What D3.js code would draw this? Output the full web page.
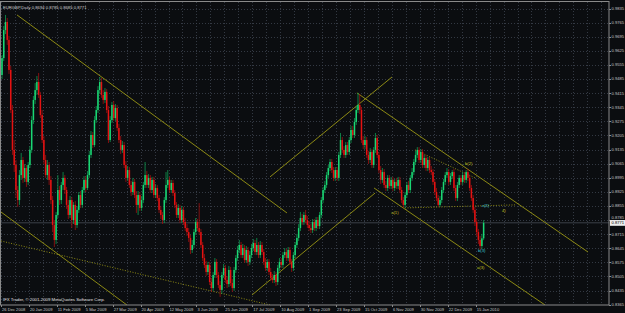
<!DOCTYPE html>
<html>
<head>
<meta charset="utf-8">
<script src="https://cdn.jsdelivr.net/npm/d3@7"></script>
<style>
  html, body { margin: 0; padding: 0; background: #0b0d10; }
  svg { display: block; }
  text { font-family: "Liberation Sans", Arial, sans-serif; }
</style>
</head>
<body>
<svg id="chart" width="625" height="313"></svg>
<script>
const title = 'EURGBP,Daily  0.8694 0.8785 0.8685 0.8771';
const copyright = 'IFX Trader, \u00a9 2001-2009 MetaQuotes Software Corp.';

// daily bars, 26 Dec 2008 .. Jan 2010
const opens = [
  0.9505,0.9589,0.9728,0.9768,0.9679,0.9530,0.9331,0.9133,0.9058,0.8934,
  0.8884,0.9008,0.9083,0.8994,0.9043,0.8974,0.9058,0.9133,0.9281,0.9381,
  0.9430,0.9470,0.9406,0.9306,0.9182,0.9083,0.9008,0.9058,0.8984,0.8884,
  0.8760,0.8686,0.8810,0.8934,0.8884,0.8959,0.8994,0.8934,0.8860,0.8810,
  0.8884,0.8785,0.8860,0.8760,0.8835,0.8909,0.8860,0.8934,0.8984,0.8944,
  0.9008,0.9108,0.9207,0.9157,0.9281,0.9331,0.9430,0.9470,0.9406,0.9381,
  0.9421,0.9331,0.9182,0.9281,0.9356,0.9291,0.9341,0.9242,0.9182,0.9133,
  0.9157,0.9058,0.8994,0.9033,0.8959,0.8924,0.8974,0.8909,0.8860,0.8909,
  0.8845,0.8884,0.8959,0.9008,0.8959,0.8994,0.8934,0.8984,0.8909,0.8944,
  0.8894,0.8835,0.8810,0.8785,0.8884,0.8959,0.8984,0.8934,0.8969,0.8919,
  0.8860,0.8810,0.8845,0.8785,0.8835,0.8775,0.8745,0.8725,0.8696,0.8636,
  0.8661,0.8725,0.8775,0.8745,0.8725,0.8661,0.8596,0.8562,0.8527,0.8562,
  0.8477,0.8447,0.8512,0.8577,0.8512,0.8462,0.8438,0.8512,0.8547,0.8487,
  0.8467,0.8537,0.8472,0.8447,0.8537,0.8596,0.8636,0.8661,0.8611,0.8646,
  0.8586,0.8636,0.8577,0.8611,0.8646,0.8671,0.8626,0.8661,0.8611,0.8661,
  0.8626,0.8577,0.8547,0.8577,0.8527,0.8497,0.8487,0.8512,0.8477,0.8547,
  0.8577,0.8562,0.8611,0.8626,0.8596,0.8636,0.8577,0.8547,0.8611,0.8661,
  0.8696,0.8745,0.8795,0.8775,0.8810,0.8785,0.8760,0.8745,0.8735,0.8775,
  0.8745,0.8785,0.8755,0.8810,0.8884,0.8934,0.8959,0.9008,0.9043,0.9073,
  0.9033,0.8994,0.9033,0.8994,0.9108,0.9182,0.9133,0.9108,0.9157,0.9123,
  0.9182,0.9232,0.9207,0.9272,0.9331,0.9356,0.9331,0.9182,0.9157,0.9182,
  0.9108,0.9083,0.9123,0.9058,0.9133,0.9192,0.9108,0.9033,0.8984,0.9023,
  0.8959,0.8944,0.8994,0.8954,0.8984,0.8944,0.8974,0.8954,0.8984,0.8934,
  0.8884,0.8860,0.8909,0.8959,0.8934,0.8994,0.9023,0.9073,0.9108,0.9133,
  0.9083,0.9123,0.9058,0.9093,0.9043,0.9083,0.9033,0.9023,0.8974,0.8924,
  0.8894,0.8860,0.8884,0.8934,0.8974,0.9008,0.9023,0.8974,0.9003,0.9023,
  0.8944,0.8894,0.8959,0.8994,0.8974,0.9008,0.8984,0.9023,0.8994,0.8944,
  0.8894,0.8835,0.8775,0.8725,0.8686,0.8656,0.8694
];
const highs = [
  0.9604,0.9748,0.9803,0.9788,0.9699,0.9550,0.9356,0.9182,0.9083,0.8954,
  0.9033,0.9118,0.9098,0.9063,0.9058,0.9073,0.9152,0.9301,0.9401,0.9465,
  0.9500,0.9515,0.9421,0.9331,0.9202,0.9108,0.9083,0.9073,0.9003,0.8904,
  0.8785,0.8825,0.9008,0.8954,0.8974,0.9023,0.9008,0.8949,0.8884,0.8904,
  0.8899,0.8874,0.8879,0.8855,0.8924,0.8929,0.8949,0.9003,0.9003,0.9028,
  0.9128,0.9227,0.9222,0.9301,0.9351,0.9450,0.9495,0.9490,0.9430,0.9440,
  0.9435,0.9351,0.9301,0.9371,0.9376,0.9361,0.9356,0.9262,0.9202,0.9177,
  0.9172,0.9078,0.9053,0.9048,0.8979,0.8994,0.8989,0.8929,0.8929,0.8924,
  0.8904,0.8974,0.9073,0.9028,0.9013,0.9008,0.8999,0.8999,0.8964,0.8959,
  0.8909,0.8855,0.8825,0.8899,0.9023,0.9033,0.8999,0.8984,0.8984,0.8934,
  0.8874,0.8864,0.8860,0.8855,0.8850,0.8795,0.8765,0.8745,0.8711,0.8686,
  0.8740,0.8795,0.8790,0.8869,0.8740,0.8676,0.8616,0.8582,0.8577,0.8577,
  0.8497,0.8527,0.8596,0.8591,0.8527,0.8482,0.8527,0.8567,0.8562,0.8507,
  0.8557,0.8552,0.8492,0.8552,0.8611,0.8656,0.8686,0.8676,0.8666,0.8661,
  0.8656,0.8651,0.8631,0.8666,0.8691,0.8686,0.8696,0.8676,0.8681,0.8676,
  0.8641,0.8596,0.8591,0.8591,0.8547,0.8517,0.8532,0.8527,0.8562,0.8596,
  0.8596,0.8626,0.8646,0.8641,0.8651,0.8651,0.8591,0.8626,0.8676,0.8716,
  0.8765,0.8825,0.8815,0.8825,0.8835,0.8805,0.8780,0.8765,0.8790,0.8790,
  0.8800,0.8800,0.8825,0.8899,0.8949,0.8979,0.9023,0.9058,0.9088,0.9088,
  0.9048,0.9048,0.9048,0.9123,0.9217,0.9197,0.9152,0.9172,0.9172,0.9197,
  0.9252,0.9252,0.9291,0.9351,0.9416,0.9411,0.9346,0.9202,0.9202,0.9197,
  0.9128,0.9142,0.9137,0.9147,0.9217,0.9207,0.9123,0.9053,0.9043,0.9038,
  0.8979,0.9008,0.9008,0.8999,0.8999,0.8989,0.8994,0.8999,0.8999,0.8949,
  0.8899,0.8924,0.8974,0.8979,0.9008,0.9043,0.9088,0.9128,0.9147,0.9147,
  0.9137,0.9137,0.9108,0.9108,0.9098,0.9098,0.9053,0.9038,0.8989,0.8944,
  0.8909,0.8904,0.8949,0.8989,0.9023,0.9043,0.9038,0.9018,0.9033,0.9038,
  0.8959,0.8974,0.9008,0.9008,0.9023,0.9023,0.9033,0.9038,0.9008,0.8959,
  0.8909,0.8850,0.8790,0.8740,0.8706,0.8716,0.8785
];
const lows = [
  0.9485,0.9574,0.9708,0.9654,0.9510,0.9316,0.9108,0.9023,0.8894,0.8850,
  0.8860,0.8984,0.8969,0.8974,0.8949,0.8959,0.9043,0.9118,0.9262,0.9361,
  0.9406,0.9391,0.9291,0.9167,0.9063,0.8994,0.8984,0.8959,0.8864,0.8725,
  0.8651,0.8666,0.8795,0.8860,0.8864,0.8934,0.8914,0.8840,0.8790,0.8795,
  0.8745,0.8765,0.8735,0.8745,0.8820,0.8845,0.8845,0.8919,0.8924,0.8934,
  0.8994,0.9093,0.9142,0.9147,0.9267,0.9316,0.9411,0.9391,0.9361,0.9366,
  0.9316,0.9167,0.9172,0.9267,0.9277,0.9277,0.9227,0.9167,0.9113,0.9118,
  0.9043,0.8974,0.8979,0.8944,0.8904,0.8909,0.8894,0.8820,0.8810,0.8830,
  0.8830,0.8869,0.8944,0.8944,0.8944,0.8919,0.8919,0.8894,0.8894,0.8879,
  0.8820,0.8790,0.8765,0.8770,0.8869,0.8944,0.8919,0.8919,0.8904,0.8845,
  0.8795,0.8795,0.8770,0.8770,0.8760,0.8730,0.8706,0.8676,0.8616,0.8621,
  0.8646,0.8711,0.8730,0.8711,0.8646,0.8582,0.8547,0.8507,0.8512,0.8462,
  0.8428,0.8433,0.8497,0.8497,0.8447,0.8403,0.8418,0.8497,0.8472,0.8447,
  0.8452,0.8457,0.8428,0.8433,0.8522,0.8582,0.8621,0.8596,0.8596,0.8572,
  0.8572,0.8557,0.8562,0.8596,0.8631,0.8611,0.8611,0.8596,0.8596,0.8611,
  0.8562,0.8532,0.8532,0.8512,0.8482,0.8472,0.8472,0.8457,0.8462,0.8532,
  0.8547,0.8547,0.8596,0.8582,0.8582,0.8562,0.8527,0.8532,0.8596,0.8646,
  0.8681,0.8730,0.8760,0.8760,0.8770,0.8745,0.8730,0.8720,0.8720,0.8730,
  0.8730,0.8740,0.8740,0.8795,0.8869,0.8919,0.8944,0.8994,0.9028,0.9018,
  0.8979,0.8979,0.8979,0.8979,0.9093,0.9118,0.9093,0.9093,0.9108,0.9108,
  0.9167,0.9192,0.9192,0.9257,0.9316,0.9311,0.9167,0.9137,0.9137,0.9093,
  0.9063,0.9068,0.9043,0.9043,0.9118,0.9093,0.9018,0.8964,0.8969,0.8944,
  0.8929,0.8929,0.8939,0.8939,0.8929,0.8929,0.8939,0.8939,0.8919,0.8869,
  0.8845,0.8845,0.8894,0.8919,0.8919,0.8979,0.9008,0.9058,0.9093,0.9068,
  0.9068,0.9043,0.9043,0.9028,0.9028,0.9018,0.9008,0.8959,0.8909,0.8879,
  0.8850,0.8850,0.8869,0.8919,0.8959,0.8994,0.8959,0.8959,0.8989,0.8929,
  0.8879,0.8879,0.8944,0.8959,0.8959,0.8969,0.8969,0.8979,0.8929,0.8879,
  0.8820,0.8755,0.8706,0.8666,0.8636,0.8641,0.8685
];
const closes = [
  0.9589,0.9728,0.9768,0.9679,0.9530,0.9331,0.9133,0.9058,0.8934,0.8884,
  0.9008,0.9083,0.8994,0.9043,0.8974,0.9058,0.9133,0.9281,0.9381,0.9430,
  0.9470,0.9406,0.9306,0.9182,0.9083,0.9008,0.9058,0.8984,0.8884,0.8760,
  0.8686,0.8810,0.8934,0.8884,0.8959,0.8994,0.8934,0.8860,0.8810,0.8884,
  0.8785,0.8860,0.8760,0.8835,0.8909,0.8860,0.8934,0.8984,0.8944,0.9008,
  0.9108,0.9207,0.9157,0.9281,0.9331,0.9430,0.9470,0.9406,0.9381,0.9421,
  0.9331,0.9182,0.9281,0.9356,0.9291,0.9341,0.9242,0.9182,0.9133,0.9157,
  0.9058,0.8994,0.9033,0.8959,0.8924,0.8974,0.8909,0.8860,0.8909,0.8845,
  0.8884,0.8959,0.9008,0.8959,0.8994,0.8934,0.8984,0.8909,0.8944,0.8894,
  0.8835,0.8810,0.8785,0.8884,0.8959,0.8984,0.8934,0.8969,0.8919,0.8860,
  0.8810,0.8845,0.8785,0.8835,0.8775,0.8745,0.8725,0.8696,0.8636,0.8661,
  0.8725,0.8775,0.8745,0.8725,0.8661,0.8596,0.8562,0.8527,0.8562,0.8477,
  0.8447,0.8512,0.8577,0.8512,0.8462,0.8438,0.8512,0.8547,0.8487,0.8467,
  0.8537,0.8472,0.8447,0.8537,0.8596,0.8636,0.8661,0.8611,0.8646,0.8586,
  0.8636,0.8577,0.8611,0.8646,0.8671,0.8626,0.8661,0.8611,0.8661,0.8626,
  0.8577,0.8547,0.8577,0.8527,0.8497,0.8487,0.8512,0.8477,0.8547,0.8577,
  0.8562,0.8611,0.8626,0.8596,0.8636,0.8577,0.8547,0.8611,0.8661,0.8696,
  0.8745,0.8795,0.8775,0.8810,0.8785,0.8760,0.8745,0.8735,0.8775,0.8745,
  0.8785,0.8755,0.8810,0.8884,0.8934,0.8959,0.9008,0.9043,0.9073,0.9033,
  0.8994,0.9033,0.8994,0.9108,0.9182,0.9133,0.9108,0.9157,0.9123,0.9182,
  0.9232,0.9207,0.9272,0.9331,0.9356,0.9331,0.9182,0.9157,0.9182,0.9108,
  0.9083,0.9123,0.9058,0.9133,0.9192,0.9108,0.9033,0.8984,0.9023,0.8959,
  0.8944,0.8994,0.8954,0.8984,0.8944,0.8974,0.8954,0.8984,0.8934,0.8884,
  0.8860,0.8909,0.8959,0.8934,0.8994,0.9023,0.9073,0.9108,0.9133,0.9083,
  0.9123,0.9058,0.9093,0.9043,0.9083,0.9033,0.9023,0.8974,0.8924,0.8894,
  0.8860,0.8884,0.8934,0.8974,0.9008,0.9023,0.8974,0.9003,0.9023,0.8944,
  0.8894,0.8959,0.8994,0.8974,0.9008,0.8984,0.9023,0.8994,0.8944,0.8894,
  0.8835,0.8775,0.8725,0.8686,0.8656,0.8694,0.8771
];
const lastPrice = 0.8771;

const priceTicks = [
  0.8365, 0.8435, 0.8505, 0.8575, 0.8645, 0.8715, 0.8785, 0.8855, 0.8925, 0.8995, 0.9065,
  0.9135, 0.9205, 0.9275, 0.9345, 0.9415, 0.9485, 0.9555, 0.9625, 0.9695, 0.9765, 0.9835
];
const dateLabels = [
  '26 Dec 2008', '20 Jan 2009', '11 Feb 2009', '5 Mar 2009', '27 Mar 2009', '20 Apr 2009',
  '12 May 2009', '3 Jun 2009', '25 Jun 2009', '17 Jul 2009', '10 Aug 2009', '1 Sep 2009',
  '23 Sep 2009', '15 Oct 2009', '6 Nov 2009', '30 Nov 2009', '22 Dec 2009', '15 Jan 2010'
];
const dateBars = [0, 16, 32, 48, 64, 80, 96, 112, 128, 144, 160, 176, 192, 208, 224, 240, 256, 272];

// drawn objects: [bar, price] anchors
const trendLines = [
  { p: [[8.6, 0.9803], [163.3, 0.8820]], dotted: false },
  { p: [[-0.6, 0.8825], [71.6, 0.8363]], dotted: false },
  { p: [[-0.6, 0.8681], [153.6, 0.8363]], dotted: true },
  { p: [[153.6, 0.8999], [223.5, 0.9495]], dotted: false },
  { p: [[143.3, 0.8413], [213.8, 0.8919]], dotted: false },
  { p: [[203.4, 0.9416], [335.8, 0.8626]], dotted: false },
  { p: [[213.2, 0.8944], [311.2, 0.8363]], dotted: false },
  { p: [[236.7, 0.9133], [271.1, 0.8994]], dotted: true },
  { p: [[230.9, 0.8845], [294.0, 0.8860]], dotted: true }
];
const waveLabels = [
  { bar: 223.0, price: 0.8820, text: 'a(1)', cyan: false },
  { bar: 265.3, price: 0.9063, text: 'b(2)', cyan: false },
  { bar: 275.0, price: 0.8855, text: 'c(2)', cyan: true },
  { bar: 286.5, price: 0.8830, text: '4)', cyan: false },
  { bar: 272.8, price: 0.8631, text: 'b(3)', cyan: true },
  { bar: 272.2, price: 0.8547, text: 'a(3)', cyan: false }
];

const BULL = '#1ad774', BULL_WICK = '#0f9a52';
const BEAR = '#e51212', BEAR_WICK = '#a01010';
const LINE = '#9a9614';
const GRID = '#3e4550';
const TEXT = '#c4c4c4';

const plot = { left: 1, top: 2, right: 609, bottom: 305 };

const x = d3.scaleLinear().domain([0, 100]).range([2, 2 + 174.5]);
const y = d3.scaleLinear().domain([0.8365, 0.9835]).range([304.6, 8.5]);

const svg = d3.select('#chart');
svg.append('rect').attr('width', 625).attr('height', 313).attr('fill', '#0b0d10');

svg.append('defs').append('clipPath').attr('id', 'plotclip')
  .append('rect')
  .attr('x', plot.left).attr('y', plot.top)
  .attr('width', plot.right - plot.left).attr('height', plot.bottom - plot.top);

const g = svg.append('g').attr('clip-path', 'url(#plotclip)');

// grid
const gridBars = d3.range(0, 350, 8);
g.append('g').selectAll('line').data(gridBars).join('line')
  .attr('x1', d => Math.round(x(d)) - 0.5).attr('x2', d => Math.round(x(d)) - 0.5)
  .attr('y1', plot.top).attr('y2', plot.bottom)
  .attr('stroke', GRID).attr('stroke-width', 0.8).attr('stroke-dasharray', '1,2');
g.append('g').selectAll('line').data(priceTicks).join('line')
  .attr('x1', plot.left).attr('x2', plot.right)
  .attr('y1', d => Math.round(y(d)) + 0.5).attr('y2', d => Math.round(y(d)) + 0.5)
  .attr('stroke', GRID).attr('stroke-width', 0.8).attr('stroke-dasharray', '1,2');

// bid line
g.append('line')
  .attr('x1', plot.left).attr('x2', plot.right)
  .attr('y1', y(lastPrice)).attr('y2', y(lastPrice))
  .attr('stroke', '#3c4148').attr('stroke-width', 1);

// trend lines
const lineGen = d3.line().x(d => x(d[0])).y(d => y(d[1]));
g.append('g').selectAll('path').data(trendLines).join('path')
  .attr('d', d => lineGen(d.p))
  .attr('fill', 'none')
  .attr('stroke', LINE)
  .attr('stroke-width', 0.9)
  .attr('stroke-dasharray', d => d.dotted ? '1,1.6' : null);

// candles
const bars = closes.map((c, i) => ({ i, o: opens[i], h: highs[i], l: lows[i], c }));
const cg = g.append('g');
cg.selectAll('line').data(bars).join('line')
  .attr('x1', d => x(d.i)).attr('x2', d => x(d.i))
  .attr('y1', d => y(d.h)).attr('y2', d => y(d.l))
  .attr('stroke', d => d.c >= d.o ? BULL_WICK : BEAR_WICK)
  .attr('stroke-width', 0.8);
cg.selectAll('rect').data(bars).join('rect')
  .attr('x', d => x(d.i) - 0.75).attr('width', 1.5)
  .attr('y', d => y(Math.max(d.o, d.c)))
  .attr('height', d => Math.max(0.7, Math.abs(y(d.o) - y(d.c))))
  .attr('fill', d => d.c >= d.o ? BULL : BEAR);

// wave labels
g.append('g').selectAll('text').data(waveLabels).join('text')
  .attr('x', d => x(d.bar)).attr('y', d => y(d.price))
  .attr('dy', '0.35em')
  .attr('font-size', 4.2)
  .attr('fill', d => d.cyan ? '#3cc8d8' : '#c8c020')
  .text(d => d.text);

// frame
svg.append('rect')
  .attr('x', plot.left - 0.5).attr('y', plot.top - 0.5)
  .attr('width', plot.right - plot.left + 0.5).attr('height', plot.bottom - plot.top + 0.5)
  .attr('fill', 'none').attr('stroke', '#8a8a8a').attr('stroke-width', 1);

// price axis; the label under the price tag is pushed up a little
const tagY = y(lastPrice);
const labelY = d => {
  const yy = y(d);
  return Math.abs(yy - tagY) < 5 ? tagY - 5.4 : yy;
};
const pa = svg.append('g');
pa.selectAll('line').data(priceTicks).join('line')
  .attr('x1', plot.right).attr('x2', plot.right + 2)
  .attr('y1', d => Math.round(y(d)) + 0.5).attr('y2', d => Math.round(y(d)) + 0.5)
  .attr('stroke', '#8a8a8a');
pa.selectAll('text').data(priceTicks).join('text')
  .attr('x', plot.right + 2.5).attr('y', labelY).attr('dy', '0.35em')
  .attr('font-size', 4.1).attr('fill', TEXT)
  .text(d => d.toFixed(4));

// current price tag
svg.append('rect')
  .attr('x', plot.right + 1).attr('y', tagY - 2.8)
  .attr('width', 15).attr('height', 5.8).attr('fill', '#ececec');
svg.append('text')
  .attr('x', plot.right + 2.5).attr('y', tagY).attr('dy', '0.35em')
  .attr('font-size', 4.1).attr('fill', '#000')
  .text(lastPrice.toFixed(4));

// date axis
const da = svg.append('g');
da.selectAll('line').data(dateBars).join('line')
  .attr('x1', d => Math.round(x(d)) - 0.5).attr('x2', d => Math.round(x(d)) - 0.5)
  .attr('y1', plot.bottom).attr('y2', plot.bottom + 2)
  .attr('stroke', '#8a8a8a');
da.selectAll('text').data(dateBars).join('text')
  .attr('x', d => x(d)).attr('y', 311)
  .attr('font-size', 4.1).attr('fill', TEXT)
  .text((d, i) => dateLabels[i]);

// title and copyright
svg.append('text').attr('x', 3).attr('y', 9)
  .attr('font-size', 4.2).attr('fill', '#d0d0d0').text(title);
svg.append('text').attr('x', 3).attr('y', 301)
  .attr('font-size', 4.3).attr('fill', '#e0e0e0').text(copyright);
</script>
</body>
</html>
